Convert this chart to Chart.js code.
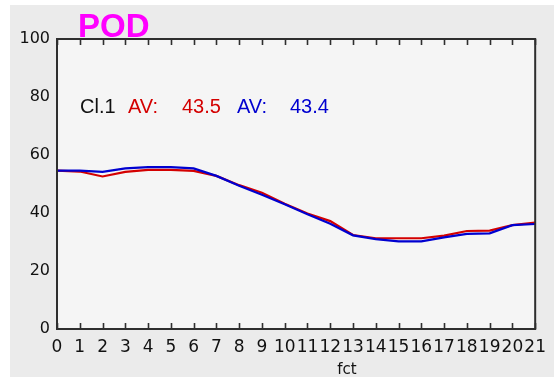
<!DOCTYPE html>
<html>
<head>
<meta charset="utf-8">
<script src="https://cdn.jsdelivr.net/npm/chart.js@4/dist/chart.umd.min.js"></script>
<style>
  html, body { margin: 0; padding: 0; background: #ffffff; }
  #wrap { width: 554px; height: 377px; position: relative; }
</style>
</head>
<body>
<div id="wrap"><canvas id="c" width="554" height="377"></canvas></div>
<script>
// Forecast steps (fct) and the two POD series
const fct = [0, 1, 2, 3, 4, 5, 6, 7, 8, 9, 10, 11, 12, 13, 14, 15, 16, 17, 18, 19, 20, 21];
const podRed = [54.6, 54.3, 52.6, 54.2, 54.9, 54.9, 54.5, 52.8, 49.6, 47.0, 43.2, 39.8, 37.2, 32.4,
                31.3, 31.3, 31.3, 32.2, 33.8, 33.9, 35.8, 36.7];
const podBlue = [54.6, 54.6, 54.2, 55.4, 55.8, 55.8, 55.4, 52.8, 49.4, 46.3, 43.0, 39.6, 36.3, 32.3,
                 31.0, 30.2, 30.2, 31.6, 32.8, 33.0, 35.8, 36.2];
const yTicks = [0, 20, 40, 60, 80, 100];
const titleText = "POD";
const classLabel = "Cl.1";
const avLabel = "AV:";
const avRed = "43.5";
const avBlue = "43.4";
const xTitle = "fct";

const RED = "#d40000";
const BLUE = "#0000d0";

const toPoints = (vals) => vals.map((v, i) => ({ x: fct[i], y: v }));

// Panel background, plot frame with inward ticks, and text overlays
const framePlugin = {
  id: "frame",
  beforeDraw(chart) {
    const { ctx, chartArea: a } = chart;
    ctx.save();
    ctx.fillStyle = "#ffffff";
    ctx.fillRect(0, 0, chart.width, chart.height);
    ctx.fillStyle = "#ebebeb";
    ctx.fillRect(10, 5, chart.width - 10, chart.height - 5);
    ctx.fillStyle = "#f5f5f5";
    ctx.fillRect(a.left, a.top, a.right - a.left, a.bottom - a.top);
    ctx.restore();
  },
  afterDatasetsDraw(chart) {
    const { ctx, chartArea: a, scales } = chart;
    const xs = scales.x;
    ctx.save();
    ctx.strokeStyle = "#2e2e2e";
    ctx.lineWidth = 2;
    ctx.strokeRect(a.left, a.top, a.right - a.left, a.bottom - a.top);
    ctx.beginPath();
    fct.forEach((v) => {
      const px = Math.round(xs.getPixelForValue(v)) + 0.5;
      ctx.moveTo(px, a.top);
      ctx.lineTo(px, a.top + 6);
      ctx.moveTo(px, a.bottom);
      ctx.lineTo(px, a.bottom - 6);
    });
    ctx.lineWidth = 1.6;
    ctx.stroke();

    // title
    ctx.fillStyle = "#ff00ff";
    ctx.font = "bold 33px 'Liberation Sans', Arial, sans-serif";
    ctx.textBaseline = "alphabetic";
    ctx.textAlign = "left";
    ctx.fillText(titleText, 78, 37);

    // class and averages line
    ctx.font = "20px 'Liberation Sans', Arial, sans-serif";
    const base = 113;
    ctx.fillStyle = "#111111";
    ctx.fillText(classLabel, 80, base);
    ctx.fillStyle = RED;
    ctx.fillText(avLabel, 128, base);
    ctx.fillText(avRed, 182, base);
    ctx.fillStyle = BLUE;
    ctx.fillText(avLabel, 237, base);
    ctx.fillText(avBlue, 290, base);

    // x axis name
    ctx.fillStyle = "#111111";
    ctx.font = "15px 'DejaVu Sans', sans-serif";
    ctx.textAlign = "center";
    ctx.fillText(xTitle, 347, 374);
    ctx.restore();
  }
};

new Chart(document.getElementById("c"), {
  type: "line",
  data: {
    datasets: [
      {
        label: "red",
        data: toPoints(podRed),
        borderColor: RED,
        borderWidth: 2.2,
        pointRadius: 0,
        tension: 0,
        fill: false,
        order: 2
      },
      {
        label: "blue",
        data: toPoints(podBlue),
        borderColor: BLUE,
        borderWidth: 2.2,
        pointRadius: 0,
        tension: 0,
        fill: false,
        order: 1
      }
    ]
  },
  options: {
    responsive: false,
    animation: false,
    devicePixelRatio: 1,
    layout: { padding: { left: 0, top: 39, right: 11, bottom: 0 } },
    plugins: {
      legend: { display: false },
      tooltip: { enabled: false },
      title: { display: false }
    },
    scales: {
      x: {
        type: "linear",
        min: fct[0],
        max: fct[fct.length - 1],
        grid: { display: false, drawTicks: false },
        border: { display: false },
        afterFit(scale) { scale.height = 48; },
        afterBuildTicks(scale) { scale.ticks = fct.map((v) => ({ value: v })); },
        ticks: {
          autoSkip: false,
          maxRotation: 0,
          minRotation: 0,
          padding: 8,
          color: "#111111",
          font: { family: "'DejaVu Sans', sans-serif", size: 17 },
          callback: (v) => String(v)
        }
      },
      y: {
        min: 0,
        max: 100,
        grid: { display: false, drawTicks: false },
        border: { display: false },
        afterFit(scale) { scale.width = 57; },
        afterBuildTicks(scale) { scale.ticks = yTicks.map((v) => ({ value: v })); },
        ticks: {
          padding: 7,
          color: "#111111",
          font: { family: "'DejaVu Sans', sans-serif", size: 16 }
        }
      }
    }
  },
  plugins: [framePlugin]
});
</script>
</body>
</html>
